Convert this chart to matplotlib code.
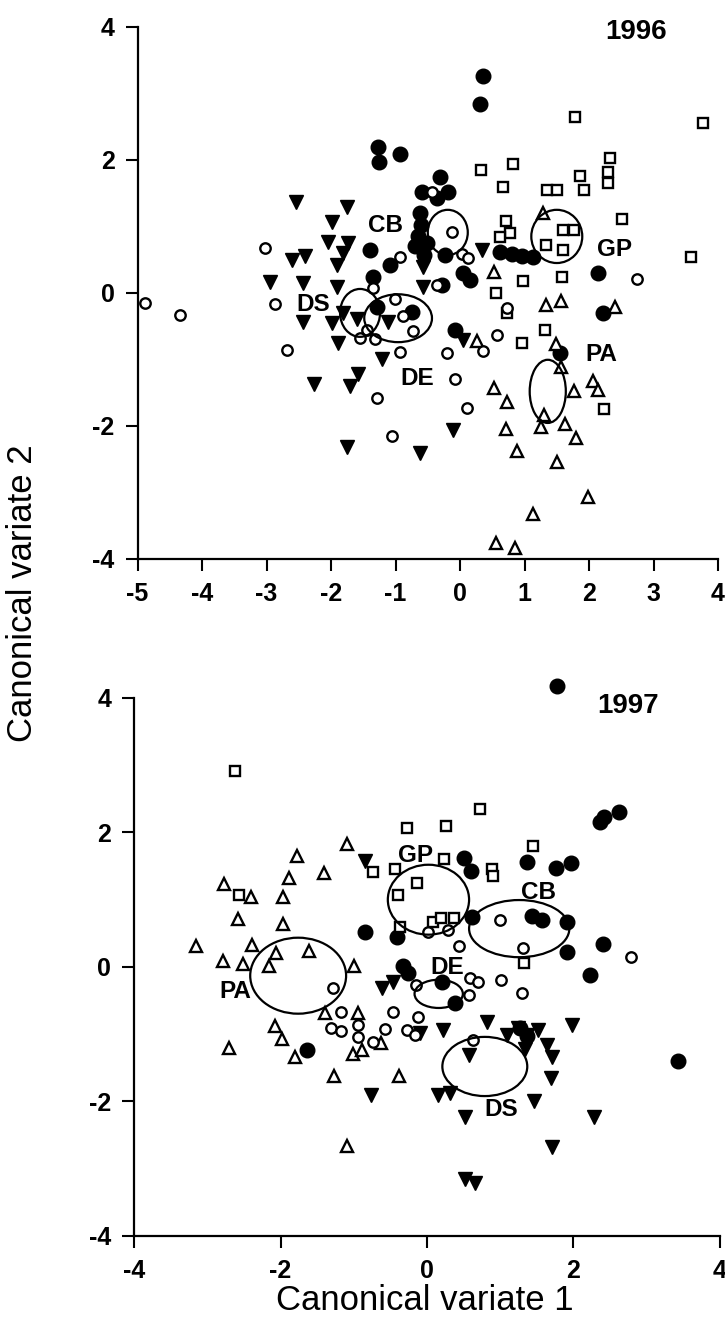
import matplotlib
matplotlib.use("Agg")
import matplotlib.pyplot as plt
from matplotlib.patches import Ellipse

plt.rcParams['font.family'] = ['Liberation Sans', 'DejaVu Sans']
plt.rcParams['axes.unicode_minus'] = False

# ---- 1996 panel data (canonical variate 1, canonical variate 2) ----

cb96_x = [-1.27, -1.26, -0.93, -0.31, -0.59, -0.36, -0.19, -0.62, -0.60, -0.65,
          -0.70, -0.51, -0.56, -0.23, -1.40, -1.09, -1.35, -0.28, 0.05, 0.16,
          0.62, 0.81, 0.96, 1.13, 0.36, 0.31, 2.14, -1.29, -0.74, -0.08, 2.22, 1.55]
cb96_y = [2.20, 1.97, 2.09, 1.74, 1.52, 1.43, 1.52, 1.20, 1.02, 0.86,
          0.71, 0.75, 0.57, 0.57, 0.65, 0.42, 0.24, 0.12, 0.30, 0.20,
          0.62, 0.59, 0.56, 0.54, 3.26, 2.84, 0.30, -0.21, -0.29, -0.56, -0.30, -0.90]

de96_x = [-4.88, -4.34, -3.02, -2.87, -2.68, -1.35, -0.93, -1.01, -0.88, -0.73,
          -1.44, -1.55, -1.32, -0.93, -1.29, -1.05, -0.43, -0.12, 0.03, 0.12,
          -0.36, 0.57, -0.20, 0.36, -0.08, 0.11, 2.74, 0.73]
de96_y = [-0.15, -0.33, 0.68, -0.17, -0.86, 0.08, 0.54, -0.09, -0.35, -0.57,
          -0.56, -0.68, -0.69, -0.89, -1.58, -2.15, 1.52, 0.92, 0.59, 0.53,
          0.12, -0.63, -0.90, -0.87, -1.29, -1.73, 0.21, -0.23]

ds96_x = [-2.54, -1.75, -1.98, -2.05, -1.74, -1.81, -2.60, -2.40, -1.91, -2.95,
          -2.43, -1.91, -0.57, -0.57, -2.43, -1.98, -1.81, -1.60, -1.12, -1.89,
          -1.21, -1.58, -1.71, -2.26, -1.75, -0.62, 0.34, 0.05, -0.11]
ds96_y = [1.37, 1.29, 1.07, 0.77, 0.75, 0.60, 0.50, 0.56, 0.42, 0.17,
          0.15, 0.09, 0.39, 0.09, -0.44, -0.45, -0.30, -0.39, -0.44, -0.75,
          -0.99, -1.22, -1.40, -1.37, -2.32, -2.41, 0.65, -0.71, -2.06]

gp96_x = [1.78, 3.77, 0.33, 0.82, 0.67, 1.35, 1.50, 1.86, 1.92, 2.33,
          2.29, 2.29, 2.51, 0.71, 0.78, 0.62, 1.60, 1.77, 1.33, 1.60,
          3.58, 0.98, 1.58, 0.56, 0.73, 1.32, 0.96, 2.23]
gp96_y = [2.65, 2.56, 1.85, 1.94, 1.59, 1.55, 1.55, 1.76, 1.55, 2.03,
          1.82, 1.65, 1.11, 1.08, 0.90, 0.84, 0.95, 0.95, 0.72, 0.65,
          0.54, 0.18, 0.24, 0.00, -0.30, -0.56, -0.75, -1.74]

pa96_x = [1.29, 0.53, 1.33, 1.57, 2.40, 0.26, 1.49, 1.57, 0.53, 0.73,
          1.77, 2.06, 2.14, 1.30, 1.26, 1.63, 0.71, 1.80, 0.88, 1.50,
          1.98, 1.13, 0.56, 0.85]
pa96_y = [1.20, 0.32, -0.18, -0.12, -0.21, -0.72, -0.77, -1.11, -1.43, -1.64,
          -1.47, -1.32, -1.46, -1.83, -2.02, -1.97, -2.05, -2.18, -2.38, -2.54,
          -3.07, -3.32, -3.76, -3.83]

# ---- 1997 panel data ----

cb97_x = [1.78, 2.36, 2.42, 2.62, 0.51, 0.60, 1.37, 1.76, 1.97, 0.61,
          1.43, 1.57, 1.91, 1.91, 2.40, 2.23, 3.43, -0.85, -0.41, -0.33,
          -0.26, -1.64, 0.20, 0.38, 1.27, 1.37]
cb97_y = [4.18, 2.15, 2.23, 2.30, 1.62, 1.43, 1.56, 1.47, 1.55, 0.74,
          0.76, 0.70, 0.67, 0.22, 0.34, -0.12, -1.40, 0.52, 0.45, 0.01,
          -0.09, -1.23, -0.22, -0.53, -0.91, -1.03]

de97_x = [2.79, 1.00, 0.01, 0.29, 0.44, 1.31, -0.15, 0.57, 0.59, 0.70,
          1.01, 1.30, -0.46, -0.12, 0.63, -1.28, -1.17, -1.31, -1.17, -0.94,
          -0.94, -0.74, -0.57, -0.27, -0.16]
de97_y = [0.15, 0.70, 0.52, 0.55, 0.31, 0.28, -0.27, -0.42, -0.16, -0.22,
          -0.19, -0.39, -0.67, -0.74, -1.08, -0.31, -0.67, -0.91, -0.95, -0.86,
          -1.04, -1.11, -0.92, -0.94, -1.01]

ds97_x = [-0.85, -0.46, -0.61, -0.77, 0.22, 0.82, 1.09, 1.24, 1.37, 1.52,
          1.98, 0.57, 1.34, 1.64, 1.71, 1.69, 0.15, 0.31, 1.46, 0.52,
          2.28, 1.71, 0.52, 0.66, -0.10]
ds97_y = [1.58, -0.22, -0.31, -1.90, -0.94, -0.82, -1.01, -0.91, -1.01, -0.94,
          -0.86, -1.31, -1.22, -1.16, -1.34, -1.65, -1.90, -1.87, -1.99, -2.23,
          -2.23, -2.67, -3.16, -3.21, -0.98]

gp97_x = [-2.62, 0.72, 0.26, -0.27, 1.45, -0.74, -0.44, 0.23, -0.14, -0.40,
          0.89, 0.90, -2.57, -0.37, 0.08, 0.19, 0.37, 1.33]
gp97_y = [2.91, 2.35, 2.10, 2.07, 1.80, 1.41, 1.46, 1.60, 1.25, 1.07,
          1.46, 1.35, 1.07, 0.59, 0.67, 0.73, 0.73, 0.06]

pa97_x = [-1.09, -1.78, -1.41, -1.89, -2.77, -2.40, -1.97, -2.58, -1.97, -3.16,
          -2.39, -2.06, -1.61, -2.79, -2.51, -2.16, -1.00, -1.39, -0.94, -2.08,
          -1.98, -2.70, -1.80, -1.01, -0.89, -0.63, -1.27, -0.38, -1.09]
pa97_y = [1.83, 1.65, 1.40, 1.32, 1.23, 1.04, 1.04, 0.71, 0.64, 0.31,
          0.33, 0.21, 0.24, 0.09, 0.04, 0.01, 0.01, -0.68, -0.68, -0.88,
          -1.07, -1.20, -1.34, -1.29, -1.23, -1.13, -1.62, -1.62, -2.66]

# group ellipses: centre x, centre y, width, height
ell96_names = ['CB', 'GP', 'DS', 'DE', 'PA']
ell96_cx = [-0.19, 1.50, -1.55, -0.96, 1.36]
ell96_cy = [0.91, 0.85, -0.30, -0.38, -1.48]
ell96_w = [0.62, 0.79, 0.62, 1.05, 0.56]
ell96_h = [0.68, 0.80, 0.72, 0.72, 0.95]

ell97_names = ['GP', 'CB', 'DE', 'PA', 'DS']
ell97_cx = [0.02, 1.26, 0.16, -1.76, 0.79]
ell97_cy = [1.00, 0.57, -0.40, -0.13, -1.48]
ell97_w = [1.11, 1.37, 0.66, 1.31, 1.16]
ell97_h = [1.04, 0.85, 0.42, 1.13, 0.88]

# group label positions
lab96 = ['CB', 'DS', 'DE', 'GP', 'PA']
lab96_x = [-1.16, -2.28, -0.67, 2.40, 2.19]
lab96_y = [1.02, -0.17, -1.28, 0.65, -0.93]

lab97 = ['GP', 'CB', 'DE', 'PA', 'DS']
lab97_x = [-0.16, 1.52, 0.27, -2.62, 1.02]
lab97_y = [1.66, 1.11, -0.01, -0.37, -2.12]


def draw_points(ax, cb, ds, gp, pa, de):
    """Plot the five groups with the marker styles of the figure."""
    ax.plot(cb[0], cb[1], 'o', ms=10.5, mfc='black', mec='black', clip_on=False)
    ax.plot(ds[0], ds[1], 'v', ms=10, mfc='black', mec='black', clip_on=False)
    ax.plot(gp[0], gp[1], 's', ms=7.5, mfc='white', mec='black', mew=1.7,
            clip_on=False)
    ax.plot(pa[0], pa[1], '^', ms=8, mfc='white', mec='black', mew=1.7,
            clip_on=False)
    ax.plot(de[0], de[1], 'o', ms=7.5, mfc='white', mec='black', mew=1.7,
            clip_on=False)


def draw_ellipses(ax, cx, cy, w, h):
    for x, y, ew, eh in zip(cx, cy, w, h):
        ax.add_patch(Ellipse((x, y), ew, eh, fill=False, ec='black', lw=1.6,
                             zorder=3))


def style_axes(ax, xticks):
    for side in ['top', 'right']:
        ax.spines[side].set_visible(False)
    for side in ['left', 'bottom']:
        ax.spines[side].set_linewidth(1.6)
    ax.set_xticks(xticks)
    ax.set_yticks([-4, -2, 0, 2, 4])
    ax.tick_params(direction='out', length=8.5, width=1.5, labelsize=18,
                   pad=8)
    for lab in ax.get_xticklabels() + ax.get_yticklabels():
        lab.set_fontweight('bold')


fig = plt.figure(figsize=(7.25, 13.34), dpi=100)

# top panel: 1996
ax1 = fig.add_axes([0.1897, 0.5810, 0.8007, 0.3988])
draw_points(ax1, (cb96_x, cb96_y), (ds96_x, ds96_y), (gp96_x, gp96_y),
            (pa96_x, pa96_y), (de96_x, de96_y))
draw_ellipses(ax1, ell96_cx, ell96_cy, ell96_w, ell96_h)
for name, x, y in zip(lab96, lab96_x, lab96_y):
    ax1.text(x, y, name, ha='center', va='center', fontsize=17.5,
             fontweight='bold', zorder=5)
ax1.text(2.73, 3.92, '1996', ha='center', va='center', fontsize=20,
         fontweight='bold')
ax1.set_xlim(-5, 4)
ax1.set_ylim(-4, 4)
style_axes(ax1, range(-5, 5))

# bottom panel: 1997
ax2 = fig.add_axes([0.1851, 0.0735, 0.8077, 0.4033])
draw_points(ax2, (cb97_x, cb97_y), (ds97_x, ds97_y), (gp97_x, gp97_y),
            (pa97_x, pa97_y), (de97_x, de97_y))
draw_ellipses(ax2, ell97_cx, ell97_cy, ell97_w, ell97_h)
for name, x, y in zip(lab97, lab97_x, lab97_y):
    ax2.text(x, y, name, ha='center', va='center', fontsize=17.5,
             fontweight='bold', zorder=5)
ax2.text(2.75, 3.88, '1997', ha='center', va='center', fontsize=20,
         fontweight='bold')
ax2.set_xlim(-4, 4)
ax2.set_ylim(-4, 4)
style_axes(ax2, [-4, -2, 0, 2, 4])

fig.text(0.586, 0.025, 'Canonical variate 1', ha='center', va='center',
         fontsize=25)
fig.text(0.031, 0.555, 'Canonical variate 2', ha='center', va='center',
         fontsize=25, rotation=90)

fig.savefig('out.png', dpi=100)
